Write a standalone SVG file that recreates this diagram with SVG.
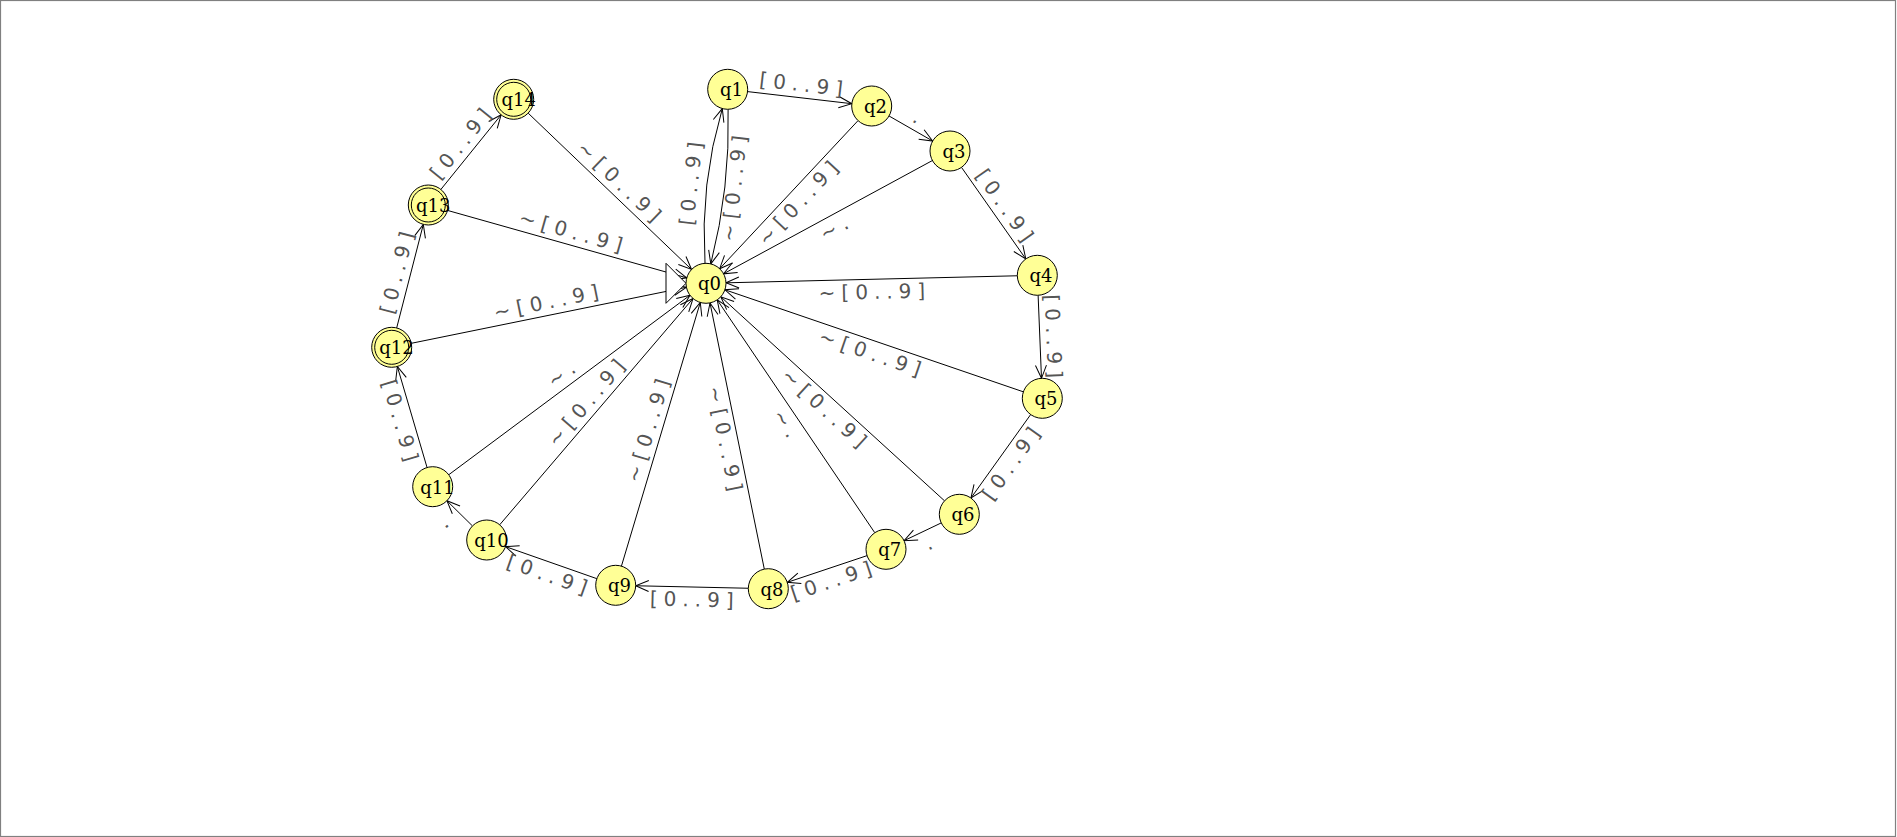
<svg xmlns="http://www.w3.org/2000/svg" width="1897" height="837" viewBox="0 0 1897 837">
<style>
.edge{fill:none;stroke:#000;stroke-width:1;marker-end:url(#arr)}
.lbl{font-family:"DejaVu Sans","Liberation Sans",sans-serif;font-size:20px;letter-spacing:6px;fill:#555;text-anchor:middle}
.st{fill:rgb(255,255,150);stroke:#000;stroke-width:1}
.nl{font-family:"DejaVu Serif","Liberation Serif",serif;font-size:18px;fill:#000}
</style>
<defs>
<marker id="arr" markerUnits="userSpaceOnUse" markerWidth="16" markerHeight="16" viewBox="-14 -8 16 16" refX="0" refY="0" orient="auto" overflow="visible">
<path d="M-13,-5.5 L0,0 L-13,5.5" fill="none" stroke="#000" stroke-width="1"/>
</marker>
</defs>
<rect x="0.5" y="0.5" width="1895" height="836" fill="#fff" stroke="#808080" stroke-width="1.2"/>
<g id="connectors">
<line class="edge" x1="747.57" y1="91.60" x2="851.83" y2="103.70"/>
<line class="edge" x1="889.04" y1="115.97" x2="932.66" y2="141.03"/>
<line class="edge" x1="961.50" y1="167.37" x2="1025.80" y2="258.93"/>
<line class="edge" x1="1038.11" y1="295.28" x2="1041.49" y2="378.32"/>
<line class="edge" x1="1030.66" y1="414.56" x2="970.94" y2="498.04"/>
<line class="edge" x1="941.25" y1="522.92" x2="904.05" y2="540.68"/>
<line class="edge" x1="867.03" y1="555.65" x2="787.27" y2="582.35"/>
<line class="edge" x1="748.30" y1="588.25" x2="635.70" y2="585.75"/>
<line class="edge" x1="596.83" y1="578.67" x2="505.57" y2="546.63"/>
<line class="edge" x1="472.47" y1="525.95" x2="446.93" y2="500.75"/>
<line class="edge" x1="427.06" y1="467.51" x2="397.34" y2="366.49"/>
<line class="edge" x1="396.68" y1="327.93" x2="423.32" y2="224.37"/>
<line class="edge" x1="440.87" y1="189.44" x2="501.13" y2="114.86"/>
<line class="edge" x1="858.04" y1="120.61" x2="719.66" y2="268.69"/>
<line class="edge" x1="932.42" y1="160.53" x2="723.58" y2="273.77"/>
<line class="edge" x1="1017.31" y1="275.78" x2="725.99" y2="282.82"/>
<line class="edge" x1="1023.38" y1="391.83" x2="724.92" y2="289.77"/>
<line class="edge" x1="944.52" y1="500.82" x2="720.78" y2="296.78"/>
<line class="edge" x1="874.79" y1="532.74" x2="717.21" y2="299.86"/>
<line class="edge" x1="764.30" y1="569.10" x2="710.00" y2="302.90"/>
<line class="edge" x1="621.43" y1="566.14" x2="700.27" y2="302.46"/>
<line class="edge" x1="499.69" y1="524.79" x2="693.01" y2="298.51"/>
<line class="edge" x1="448.74" y1="474.76" x2="689.96" y2="295.24"/>
<line class="edge" x1="411.30" y1="343.31" x2="686.40" y2="287.29"/>
<line class="edge" x1="447.55" y1="210.43" x2="686.75" y2="277.87"/>
<line class="edge" x1="528.15" y1="113.13" x2="691.55" y2="269.47"/>
<path class="edge" d="M705,263.3 Q699.9,184.2 722.3,108.6"/>
<path class="edge" d="M728.1,109.3 Q730.3,187.4 710.8,263.9"/>
<text class="lbl" transform="translate(799.7 97.65) rotate(6.62)" x="3" y="-6.5">[0..9]</text>
<text class="lbl" transform="translate(910.85 128.5) rotate(29.88)" x="3" y="-6.5">.</text>
<text class="lbl" transform="translate(993.65 213.15) rotate(54.92)" x="3" y="-6.5">[0..9]</text>
<text class="lbl" transform="translate(1039.8 336.8) rotate(87.67)" x="3" y="-6.5">[0..9]</text>
<text class="lbl" transform="translate(1000.8 456.3) rotate(-54.42)" x="3" y="19.5">[0..9]</text>
<text class="lbl" transform="translate(922.65 531.8) rotate(-25.52)" x="3" y="19.5">.</text>
<text class="lbl" transform="translate(827.15 569) rotate(-18.51)" x="3" y="19.5">[0..9]</text>
<text class="lbl" transform="translate(692 587) rotate(1.28)" x="3" y="19.5">[0..9]</text>
<text class="lbl" transform="translate(551.2 562.65) rotate(19.35)" x="3" y="19.5">[0..9]</text>
<text class="lbl" transform="translate(459.7 513.35) rotate(44.63)" x="3" y="19.5">.</text>
<text class="lbl" transform="translate(412.2 417) rotate(73.61)" x="3" y="19.5">[0..9]</text>
<text class="lbl" transform="translate(410 276.15) rotate(-75.58)" x="3" y="-6.5">[0..9]</text>
<text class="lbl" transform="translate(471 152.15) rotate(-51.07)" x="3" y="-6.5">[0..9]</text>
<text class="lbl" transform="translate(788.85 194.65) rotate(-46.94)" x="3" y="19.5">~[0..9]</text>
<text class="lbl" transform="translate(828 217.15) rotate(-28.47)" x="3" y="19.5">~.</text>
<text class="lbl" transform="translate(871.65 279.3) rotate(-1.38)" x="3" y="19.5">~[0..9]</text>
<text class="lbl" transform="translate(874.15 340.8) rotate(18.88)" x="3" y="19.5">~[0..9]</text>
<text class="lbl" transform="translate(832.65 398.8) rotate(42.36)" x="3" y="19.5">~[0..9]</text>
<text class="lbl" transform="translate(796 416.3) rotate(55.91)" x="3" y="19.5">~.</text>
<text class="lbl" transform="translate(737.15 436) rotate(78.47)" x="3" y="19.5">~[0..9]</text>
<text class="lbl" transform="translate(660.85 434.3) rotate(-73.35)" x="3" y="-6.5">~[0..9]</text>
<text class="lbl" transform="translate(596.35 411.65) rotate(-49.49)" x="3" y="-6.5">~[0..9]</text>
<text class="lbl" transform="translate(569.35 385) rotate(-36.66)" x="3" y="-6.5">~.</text>
<text class="lbl" transform="translate(548.85 315.3) rotate(-11.51)" x="3" y="-6.5">~[0..9]</text>
<text class="lbl" transform="translate(567.15 244.15) rotate(15.75)" x="3" y="-6.5">~[0..9]</text>
<text class="lbl" transform="translate(609.85 191.3) rotate(43.74)" x="3" y="-6.5">~[0..9]</text>
<text class="lbl" transform="translate(704.3 185) rotate(-83.62)" x="3" y="-6.5">[0..9]</text>
<text class="lbl" transform="translate(721.6 186.9) rotate(-83.62)" x="3" y="19.5">~[0..9]</text>
</g>
<polygon id="initial" points="666,263.3 686,283.3 666,303.3" fill="#fff" stroke="#000" stroke-width="1"/>
<g id="q0"><circle class="st" cx="706" cy="283.3" r="20"/><text class="nl" x="698" y="290.3">q0</text></g>
<g id="q1"><circle class="st" cx="727.7" cy="89.3" r="20"/><text class="nl" x="720" y="96.3">q1</text></g>
<g id="q2"><circle class="st" cx="871.7" cy="106" r="20"/><text class="nl" x="864" y="113">q2</text></g>
<g id="q3"><circle class="st" cx="950" cy="151" r="20"/><text class="nl" x="942.5" y="158">q3</text></g>
<g id="q4"><circle class="st" cx="1037.3" cy="275.3" r="20"/><text class="nl" x="1029.5" y="282.3">q4</text></g>
<g id="q5"><circle class="st" cx="1042.3" cy="398.3" r="20"/><text class="nl" x="1034.5" y="405.3">q5</text></g>
<g id="q6"><circle class="st" cx="959.3" cy="514.3" r="20"/><text class="nl" x="951.5" y="521.3">q6</text></g>
<g id="q7"><circle class="st" cx="886" cy="549.3" r="20"/><text class="nl" x="878.3" y="556.3">q7</text></g>
<g id="q8"><circle class="st" cx="768.3" cy="588.7" r="20"/><text class="nl" x="760.5" y="595.7">q8</text></g>
<g id="q9"><circle class="st" cx="615.7" cy="585.3" r="20"/><text class="nl" x="608" y="592.3">q9</text></g>
<g id="q10"><circle class="st" cx="486.7" cy="540" r="20"/><text class="nl" x="474.3" y="547">q10</text></g>
<g id="q11"><circle class="st" cx="432.7" cy="486.7" r="20"/><text class="nl" x="420.3" y="493.7">q11</text></g>
<g id="q12"><circle class="st" cx="391.7" cy="347.3" r="20"/><circle class="st" cx="391.7" cy="347.3" r="17"/><text class="nl" x="379.3" y="354.3">q12</text></g>
<g id="q13"><circle class="st" cx="428.3" cy="205" r="20"/><circle class="st" cx="428.3" cy="205" r="17"/><text class="nl" x="416" y="212">q13</text></g>
<g id="q14"><circle class="st" cx="513.7" cy="99.3" r="20"/><circle class="st" cx="513.7" cy="99.3" r="17"/><text class="nl" x="501.5" y="106.3">q14</text></g>
</svg>
